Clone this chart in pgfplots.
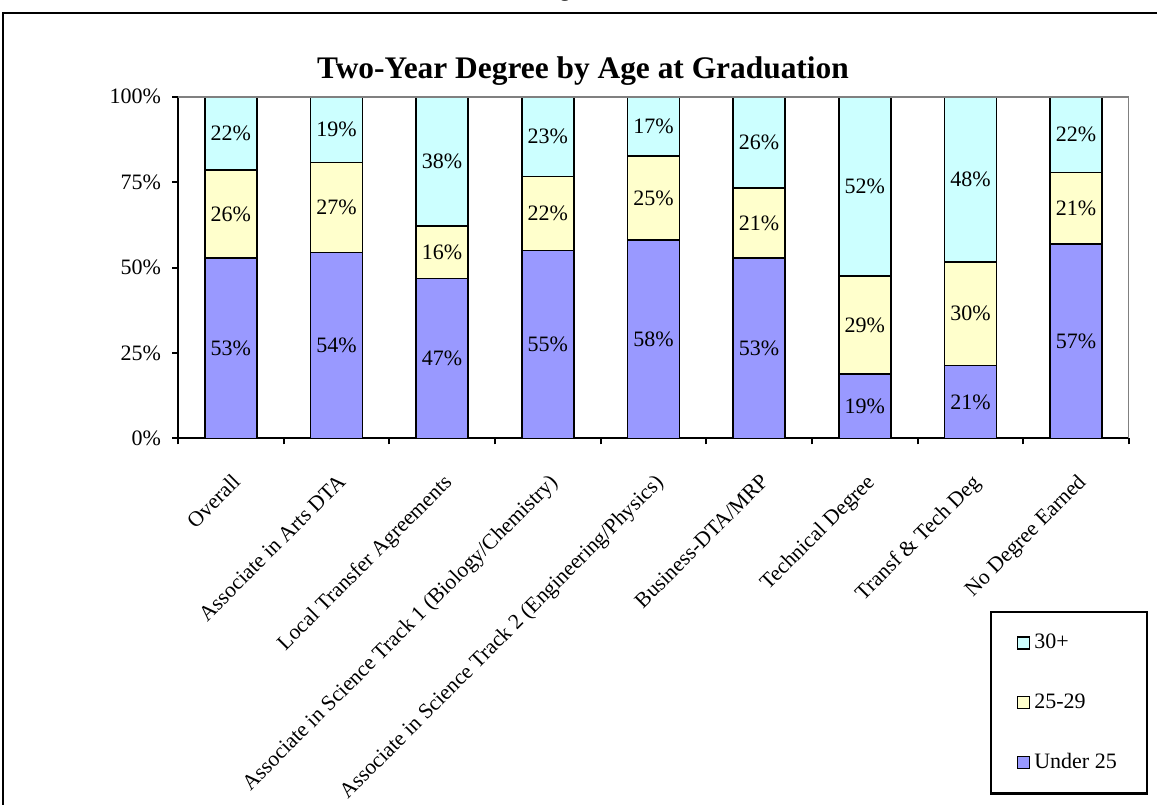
\documentclass[border=0pt]{standalone}
\usepackage{pgfplots}
\pgfplotsset{compat=1.18}
\usepackage{pgfplotstable}
\usepackage{fontspec}
\setmainfont{Liberation Serif}
\definecolor{cU}{HTML}{9999FF}
\definecolor{cM}{HTML}{FFFFCC}
\definecolor{cO}{HTML}{CCFFFF}
\definecolor{axgray}{HTML}{808080}
% u = Under 25, m = 25-29, o = 30+ (percent of each bar), lu/lm/lo = printed labels
\pgfplotstableread{
x u m o lu lm lo
0 52.8 25.7 21.5 53 26 22
1 54.4 26.3 19.3 54 27 19
2 46.8 15.3 37.9 47 16 38
3 55.0 21.6 23.4 55 22 23
4 58.0 24.6 17.4 58 25 17
5 52.7 20.5 26.8 53 21 26
6 18.8 28.7 52.5 19 29 52
7 21.3 30.3 48.4 21 30 48
8 56.9 20.9 22.2 57 21 22
}\data
\begin{document}
\begin{tikzpicture}
\useasboundingbox (0,0) rectangle (578.5pt,402pt);
\clip (0,0) rectangle (578.5pt,402pt);
\draw[line width=1.2pt] (1.5pt,-10pt) -- (1.5pt,395.5pt) -- (600pt,395.5pt);
\node[anchor=base, font=\fontsize{11}{13}\selectfont] at (282.5pt,403.5pt) {g};
\node[font=\fontsize{15.7}{19}\selectfont\bfseries] at (291.5pt,366.5pt) {Two-Year Degree by Age at Graduation};
\begin{axis}[
  at={(89pt,182.85pt)}, anchor=south west,
  scale only axis, width=475.5pt, height=170.8pt,
  xmin=-0.5, xmax=8.5, ymin=0, ymax=100,
  axis x line*=bottom, axis y line*=left,
  axis line style={line width=1pt, black, -},
  xtick={-0.5,0.5,1.5,2.5,3.5,4.5,5.5,6.5,7.5,8.5},
  xticklabels={},
  extra x ticks={0,1,2,3,4,5,6,7,8},
  extra x tick labels={Overall, Associate in Arts DTA, Local Transfer Agreements, Associate in Science Track 1 (Biology/Chemistry), Associate in Science Track 2 (Engineering/Physics), Business-DTA/MRP, Technical Degree, Transf \& Tech Deg, No Degree Earned},
  extra x tick style={major tick length=0pt, xticklabel style={xshift=0pt, yshift=-17pt, rotate=45, anchor=north east, inner sep=0pt, font=\fontsize{10.8}{12}\selectfont}},
  ytick={0,25,50,75,100},
  yticklabel={\pgfmathprintnumber{\tick}\%},
  yticklabel style={xshift=-2pt},
  tick align=outside, major tick length=3pt,
  tick style={black, line width=1pt},
  ticklabel style={font=\fontsize{11}{13}\selectfont},
  /pgf/number format/assume math mode=true,
  legend style={at={(1.02,-0.5056)}, anchor=north east, draw=black, line width=1.2pt,
    font=\fontsize{11}{13}\selectfont, row sep=17pt, inner xsep=13pt, inner ysep=9pt},
  legend cell align=left,
  legend image code/.code={\draw[#1, line width=0.7pt] (0pt,-3pt) rectangle (6pt,3pt);},
  bar style/.style={ybar, bar shift=0pt, bar width=26pt, draw=black, line width=0.8pt},
  lab/.style={draw=none, mark=none, forget plot, point meta=explicit symbolic,
    nodes near coords={\pgfplotspointmeta\%},
    every node near coord/.append style={anchor=center, inner sep=0pt, font=\fontsize{11}{13}\selectfont, text=black}},
]
% cumulative bars drawn back to front: 30+ reaches 100, 25-29 reaches u+m, Under 25 reaches u
\addplot[bar style, fill=cO] table[x=x, y expr=\thisrow{u}+\thisrow{m}+\thisrow{o}]{\data};
\addplot[bar style, fill=cM] table[x=x, y expr=\thisrow{u}+\thisrow{m}]{\data};
\addplot[bar style, fill=cU] table[x=x, y=u]{\data};
\legend{30+, 25-29, Under 25}
% segment labels at the middle of each segment
\addplot[lab] table[x=x, y expr=\thisrow{u}/2, meta=lu]{\data};
\addplot[lab] table[x=x, y expr=\thisrow{u}+\thisrow{m}/2, meta=lm]{\data};
\addplot[lab] table[x=x, y expr=\thisrow{u}+\thisrow{m}+\thisrow{o}/2, meta=lo]{\data};
\draw[axgray, line width=1pt] (rel axis cs:0,1) -- (rel axis cs:1,1) -- (rel axis cs:1,0);
\end{axis}
\end{tikzpicture}
\end{document}
